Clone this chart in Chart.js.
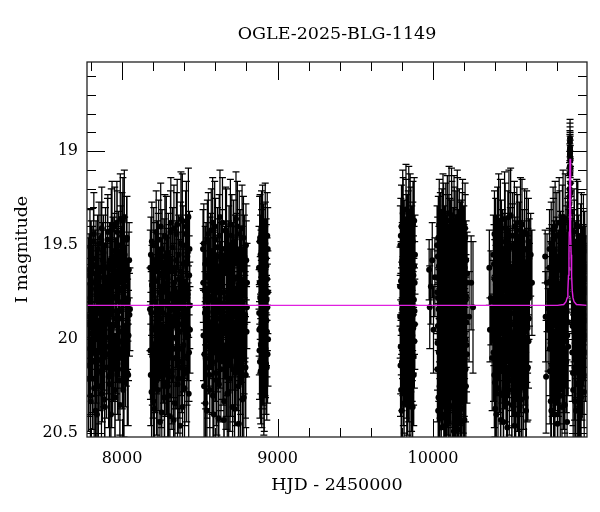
<!DOCTYPE html>
<html>
<head>
<meta charset="utf-8">
<script src="https://cdn.jsdelivr.net/npm/chart.js@4"></script>
<style>
  html, body { margin: 0; padding: 0; background: #fff; }
  #wrap { width: 600px; height: 512px; }
</style>
</head>
<body>
<div id="wrap"><canvas id="lc" width="600" height="512"></canvas></div>
<script>
const title = 'OGLE-2025-BLG-1149';
const xTickLabels = [8000, 9000, 10000];
const yTickLabels = [19, 19.5, 20, 20.5];

// observing seasons: [HJD - 2450000, I mag, error]
const season1 = [
  [7781,19.92,0.22],[7785,20.21,0.28],[7788,19.63,0.19],[7792,20.05,0.25],[7795,19.78,0.21],[7799,20.33,0.31],
  [7802,19.55,0.18],[7806,19.97,0.24],[7810,20.12,0.27],[7813,19.70,0.20],[7817,19.48,0.18],[7821,20.26,0.30],
  [7824,19.86,0.22],[7828,19.61,0.19],[7832,20.08,0.26],[7835,19.74,0.21],[7839,20.40,0.33],[7843,19.52,0.18],
  [7846,19.91,0.23],[7850,20.17,0.28],[7854,19.67,0.20],[7857,19.83,0.22],[7861,20.02,0.25],[7865,19.46,0.19],
  [7868,20.29,0.30],[7872,19.76,0.21],[7876,19.58,0.20],[7879,20.10,0.26],[7883,19.94,0.23],[7887,19.69,0.20],
  [7890,20.36,0.32],[7894,19.50,0.20],[7898,19.88,0.22],[7901,20.15,0.27],[7905,19.72,0.21],[7909,19.43,0.20],
  [7912,20.04,0.25],[7916,19.81,0.22],[7920,20.24,0.29],[7923,19.60,0.20],[7927,19.95,0.23],[7931,19.42,0.22],
  [7934,20.19,0.28],[7938,19.77,0.21],[7942,19.56,0.21],[7945,20.07,0.26],[7949,19.89,0.23],[7953,19.40,0.21],
  [7956,20.31,0.30],[7960,19.66,0.20],[7964,19.99,0.24],[7967,19.38,0.22],[7971,20.13,0.27],[7975,19.73,0.22],
  [7978,19.53,0.21],[7982,19.85,0.23],[7986,20.22,0.29],[7989,19.36,0.24],[7993,19.62,0.22],[7997,20.01,0.25],
  [8000,19.45,0.23],[8004,19.80,0.22],[8008,20.27,0.30],[8011,19.57,0.22],[8015,19.35,0.25],[8019,19.93,0.24],
  [8022,20.09,0.27],[8026,19.68,0.21],[8030,19.47,0.23],[8034,20.18,0.28],[8038,19.79,0.22],[8042,19.98,0.24],
  [8046,19.58,0.20],[8051,19.84,0.22],
  [7783,19.66,0.20],[7787,20.14,0.27],[7790,19.88,0.22],[7794,19.51,0.20],[7797,20.30,0.31],[7801,19.73,0.22],
  [7804,19.97,0.24],[7808,19.60,0.20],[7811,20.21,0.27],[7815,19.84,0.22],[7819,19.44,0.22],[7822,20.06,0.24],
  [7826,19.92,0.24],[7830,20.38,0.31],[7833,19.57,0.20],[7837,19.79,0.22],[7841,20.00,0.24],[7844,19.69,0.20],
  [7848,20.25,0.29],[7852,19.49,0.22],[7855,19.86,0.22],[7859,20.11,0.27],[7863,19.64,0.20],[7866,19.95,0.24],
  [7870,19.41,0.22],[7874,20.17,0.27],[7877,19.75,0.22],[7881,19.54,0.20],[7885,20.03,0.24],[7888,20.32,0.31],
  [7892,19.82,0.22],[7896,19.62,0.20],[7899,19.90,0.24],[7903,20.08,0.24],[7907,19.47,0.22],[7910,19.71,0.22],
  [7914,20.20,0.27],[7918,19.99,0.24],[7921,19.58,0.20],[7925,19.87,0.22],[7929,20.40,0.32],[7932,19.67,0.20],
  [7936,19.39,0.23],[7940,20.13,0.27],[7943,19.78,0.22],[7947,19.93,0.24],[7951,19.53,0.20],[7954,20.27,0.30],
  [7958,19.70,0.22],[7962,20.05,0.24],[7965,19.85,0.22],[7969,19.43,0.22],[7973,19.61,0.20],[7976,20.16,0.27],
  [7980,19.96,0.24],[7984,19.74,0.22],[7987,20.35,0.31],[7991,19.50,0.21],[7995,19.89,0.22],[7998,19.65,0.20],
  [8002,20.10,0.27],[8006,19.37,0.23],[8009,19.81,0.22],[8013,20.23,0.29],[8017,19.55,0.20],[8020,19.98,0.24],
  [8024,19.72,0.22],[8028,20.01,0.24],[8032,19.46,0.22],[8036,19.92,0.24],[8040,20.19,0.27],[8044,19.63,0.20],
  [8048,19.87,0.22]
];
const season2 = [
  [8180,19.84,0.22],[8183,20.06,0.26],[8186,19.55,0.20],[8190,20.28,0.30],[8193,19.71,0.21],[8197,19.95,0.23],
  [8200,20.15,0.27],[8204,19.50,0.20],[8208,20.37,0.32],[8211,19.80,0.22],[8215,19.63,0.20],[8218,20.02,0.25],
  [8222,20.22,0.29],[8226,19.57,0.20],[8229,19.90,0.23],[8233,20.11,0.27],[8236,19.47,0.21],[8240,19.75,0.21],
  [8244,20.44,0.33],[8247,19.97,0.24],[8251,19.66,0.20],[8254,20.19,0.28],[8258,19.52,0.21],[8262,19.86,0.22],
  [8265,20.08,0.26],[8269,19.70,0.21],[8272,20.31,0.31],[8276,19.45,0.22],[8280,19.93,0.23],[8283,20.14,0.27],
  [8287,19.61,0.20],[8290,19.82,0.22],[8294,20.25,0.30],[8298,19.54,0.21],[8301,20.00,0.25],[8305,19.76,0.21],
  [8308,20.41,0.33],[8312,19.43,0.22],[8316,19.88,0.23],[8319,20.17,0.28],[8323,19.64,0.21],[8326,19.99,0.24],
  [8330,20.05,0.26],[8334,19.41,0.23],[8337,19.73,0.21],[8341,20.34,0.31],[8344,19.92,0.23],[8348,19.58,0.21],
  [8352,20.10,0.27],[8355,19.39,0.24],[8359,19.81,0.22],[8362,20.21,0.29],[8366,19.68,0.21],[8370,19.96,0.24],
  [8373,20.46,0.33],[8377,19.49,0.22],[8380,19.87,0.23],[8384,20.12,0.27],[8388,19.37,0.25],[8391,19.74,0.22],
  [8395,20.03,0.25],[8398,19.60,0.22],[8402,20.26,0.30],[8406,19.91,0.23],[8409,19.44,0.23],[8413,19.78,0.22],
  [8416,20.16,0.28],[8420,19.56,0.22],[8424,19.98,0.24],[8427,19.35,0.26],[8431,20.07,0.26],[8434,19.52,0.20],
  [8437,19.95,0.23],
  [8182,19.62,0.20],[8185,20.19,0.27],[8188,19.86,0.22],[8192,19.48,0.21],[8195,20.09,0.26],[8199,19.77,0.22],
  [8202,20.33,0.31],[8206,19.58,0.20],[8209,19.94,0.24],[8213,20.12,0.27],[8216,19.69,0.21],[8220,19.43,0.22],
  [8224,20.04,0.25],[8227,19.83,0.22],[8231,20.27,0.30],[8234,19.53,0.20],[8238,19.98,0.24],[8242,19.72,0.21],
  [8245,20.16,0.27],[8249,19.40,0.23],[8252,19.89,0.23],[8256,20.39,0.32],[8260,19.65,0.21],[8263,20.01,0.25],
  [8267,19.80,0.22],[8270,19.56,0.20],[8274,20.23,0.29],[8278,19.74,0.21],[8281,19.96,0.24],[8285,19.46,0.22],
  [8289,20.13,0.27],[8292,19.67,0.21],[8296,19.91,0.23],[8299,20.30,0.31],[8303,19.59,0.20],[8307,19.85,0.22],
  [8310,20.07,0.26],[8314,19.38,0.24],[8317,19.78,0.22],[8321,20.20,0.28],[8325,19.51,0.21],[8328,19.93,0.23],
  [8332,20.43,0.33],[8335,19.70,0.21],[8339,19.62,0.20],[8343,20.10,0.27],[8346,19.84,0.22],[8350,19.44,0.22],
  [8353,20.00,0.25],[8357,20.24,0.29],[8361,19.75,0.21],[8364,19.55,0.21],[8368,19.92,0.23],[8371,20.15,0.27],
  [8375,19.64,0.21],[8379,19.36,0.25],[8382,20.05,0.25],[8386,19.81,0.22],[8389,20.36,0.32],[8393,19.50,0.21],
  [8396,19.88,0.23],[8400,19.71,0.21],[8404,20.18,0.28],[8407,19.97,0.24],[8411,19.59,0.21],[8414,19.40,0.24],
  [8418,20.09,0.26],[8422,19.76,0.22],[8425,19.94,0.24],[8429,20.29,0.30],[8432,19.66,0.21],[8436,19.82,0.23]
];
const season3 = [
  [8521,19.52,0.21],[8524,19.98,0.24],[8528,20.25,0.30],[8531,19.74,0.21],[8535,19.60,0.20],[8538,20.10,0.27],
  [8542,19.88,0.23],[8546,20.38,0.32],[8549,19.47,0.21],[8553,19.80,0.22],[8556,20.04,0.25],[8560,19.66,0.20],
  [8564,20.19,0.28],[8567,19.55,0.20],[8571,19.93,0.23],[8574,19.42,0.22],[8578,20.13,0.27],[8582,19.77,0.21],
  [8585,20.30,0.31],[8589,19.62,0.20],[8592,19.85,0.22],[8596,19.40,0.24],[8600,20.07,0.26],[8603,19.71,0.21],
  [8607,19.95,0.23],[8610,20.22,0.29],[8614,19.51,0.21],[8618,19.82,0.22],[8621,20.42,0.33],[8625,19.45,0.22],
  [8628,20.01,0.25],[8632,19.69,0.21],[8636,20.16,0.28],[8639,19.58,0.20],[8643,19.90,0.23],[8646,19.38,0.24],
  [8650,20.09,0.26],[8654,19.75,0.21],[8657,20.33,0.31],[8661,19.64,0.21],[8664,19.97,0.24],[8668,20.20,0.28],
  [8672,19.43,0.23],[8675,19.83,0.22],[8679,20.05,0.25],[8682,19.57,0.20],[8686,20.28,0.30],[8690,19.72,0.21],
  [8693,19.92,0.23],[8697,19.39,0.24],[8700,20.14,0.27],[8704,19.79,0.22],[8708,19.61,0.21],[8711,20.36,0.32],
  [8715,19.87,0.23],[8718,19.48,0.22],[8722,20.02,0.25],[8726,19.68,0.21],[8729,20.18,0.28],[8733,19.36,0.25],
  [8736,19.94,0.24],[8740,19.54,0.21],[8744,20.11,0.27],[8747,19.76,0.22],[8751,20.45,0.33],[8754,19.44,0.23],
  [8758,19.86,0.23],[8762,20.23,0.29],[8765,19.63,0.21],[8769,19.99,0.24],[8772,19.41,0.23],[8776,20.06,0.26],
  [8780,19.73,0.22],[8783,20.31,0.31],[8787,19.56,0.22],[8790,19.89,0.23],[8794,20.15,0.27],[8797,19.50,0.22],
  [8801,19.96,0.24],[8804,19.70,0.21],
  [8523,19.70,0.21],[8526,19.49,0.21],[8530,20.08,0.26],[8533,19.86,0.22],[8537,20.34,0.31],[8540,19.58,0.20],
  [8544,19.95,0.23],[8547,20.15,0.27],[8551,19.67,0.21],[8555,19.44,0.22],[8558,20.00,0.25],[8562,19.79,0.22],
  [8565,20.27,0.30],[8569,19.53,0.20],[8573,19.91,0.23],[8576,19.73,0.21],[8580,20.12,0.27],[8583,19.38,0.24],
  [8587,19.97,0.24],[8591,20.40,0.32],[8594,19.63,0.20],[8598,19.84,0.22],[8601,19.47,0.22],[8605,20.18,0.28],
  [8609,19.75,0.21],[8612,20.03,0.25],[8616,19.56,0.20],[8619,19.89,0.23],[8623,20.24,0.29],[8627,19.66,0.21],
  [8630,19.35,0.25],[8634,19.93,0.23],[8637,20.11,0.27],[8641,19.72,0.21],[8645,19.52,0.21],[8648,20.06,0.26],
  [8652,19.81,0.22],[8655,20.43,0.33],[8659,19.60,0.20],[8662,19.88,0.23],[8666,19.42,0.23],[8670,20.14,0.27],
  [8673,19.78,0.22],[8677,20.29,0.30],[8680,19.65,0.21],[8684,19.99,0.24],[8688,19.50,0.21],[8691,19.84,0.22],
  [8695,20.21,0.28],[8698,19.70,0.21],[8702,20.02,0.25],[8706,19.45,0.22],[8709,19.92,0.23],[8713,20.16,0.28],
  [8716,19.59,0.21],[8720,19.77,0.22],[8724,20.37,0.32],[8727,19.55,0.21],[8731,19.96,0.24],[8734,20.09,0.26],
  [8738,19.67,0.21],[8742,19.40,0.24],[8745,19.85,0.23],[8749,20.25,0.29],[8752,19.74,0.22],[8756,19.98,0.24],
  [8760,19.52,0.21],[8763,20.13,0.27],[8767,19.82,0.22],[8770,19.61,0.21],[8774,20.32,0.31],[8778,19.90,0.23],
  [8781,19.46,0.22],[8785,20.04,0.25],[8789,19.71,0.21],[8792,19.87,0.23],[8796,20.19,0.28],[8799,19.58,0.21],
  [8803,19.83,0.22]
];
const season4 = [
  [8881,19.62,0.22],[8883,19.95,0.24],[8885,19.48,0.24],[8887,20.12,0.30],[8889,19.78,0.22],[8891,19.55,0.21],
  [8893,20.03,0.26],[8895,19.87,0.23],[8897,19.44,0.23],[8899,20.19,0.28],[8901,19.70,0.22],[8903,19.92,0.24],
  [8905,19.59,0.22],[8907,20.08,0.27],[8909,19.81,0.22],[8911,19.50,0.22],[8913,19.98,0.24],[8915,20.22,0.27],
  [8917,19.66,0.21],[8919,19.85,0.23],[8921,19.40,0.23],[8923,20.05,0.26],[8925,19.74,0.22],[8927,19.57,0.21],
  [8929,19.90,0.24],[8931,20.15,0.28],[8933,19.68,0.22],[8935,19.83,0.23],[8937,19.52,0.22],[8939,20.00,0.25],
  [8882,19.86,0.23],[8884,20.06,0.26],[8886,19.70,0.22],[8888,19.46,0.23],[8890,19.94,0.24],[8892,20.17,0.28],
  [8894,19.63,0.21],[8896,19.80,0.22],[8898,19.53,0.22],[8900,20.10,0.27],[8902,19.88,0.23],[8904,19.42,0.24],
  [8906,19.76,0.22],[8908,20.01,0.25],[8910,19.65,0.21],[8912,20.24,0.27],[8914,19.58,0.22],[8916,19.93,0.24],
  [8918,19.72,0.22],[8920,20.04,0.26],[8922,19.49,0.22],[8924,19.84,0.23],[8926,20.13,0.27],[8928,19.61,0.22],
  [8930,19.79,0.22],[8932,19.96,0.24],[8934,19.45,0.23],[8936,20.08,0.26],[8938,19.75,0.22]
];
const season5 = [
  [9788,19.72,0.21],[9791,20.14,0.27],[9793,19.45,0.20],[9796,19.95,0.24],[9798,20.38,0.30],[9801,19.60,0.20],
  [9803,19.84,0.22],[9806,20.05,0.25],[9808,19.36,0.22],[9811,19.77,0.21],[9813,20.22,0.28],[9816,19.52,0.20],
  [9818,19.91,0.23],[9821,19.66,0.21],[9823,20.10,0.26],[9826,19.31,0.24],[9828,19.86,0.22],[9831,20.30,0.29],
  [9833,19.57,0.20],[9836,19.99,0.24],[9838,19.74,0.21],[9841,19.42,0.21],[9843,20.17,0.27],[9846,19.81,0.22],
  [9848,19.63,0.21],[9851,20.02,0.25],[9853,19.34,0.22],[9856,19.89,0.23],[9858,20.26,0.29],[9861,19.70,0.21],
  [9863,19.50,0.21],[9866,20.07,0.26],[9868,19.79,0.22],[9871,19.39,0.23],[9873,19.94,0.24],[9876,20.19,0.27],
  [9878,19.61,0.21],[9881,19.85,0.23],[9884,19.55,0.21],
  [9789,19.88,0.22],[9790,19.50,0.21],[9792,20.04,0.25],[9794,19.69,0.21],[9795,20.27,0.29],[9797,19.40,0.22],
  [9799,19.81,0.22],[9800,20.12,0.26],[9802,19.58,0.20],[9804,19.97,0.24],[9805,19.33,0.23],[9807,19.75,0.21],
  [9809,20.19,0.27],[9810,19.64,0.21],[9812,19.92,0.23],[9814,20.34,0.30],[9815,19.47,0.21],[9817,19.83,0.22],
  [9819,20.08,0.26],[9820,19.71,0.21],[9822,19.55,0.20],[9824,20.00,0.25],[9825,19.87,0.22],[9827,19.38,0.23],
  [9829,20.15,0.27],[9830,19.67,0.21],[9832,19.93,0.23],[9834,19.44,0.21],[9835,20.23,0.28],[9837,19.78,0.22],
  [9839,19.60,0.21],[9840,20.06,0.25],[9842,19.85,0.22],[9844,19.32,0.24],[9845,19.96,0.24],[9847,20.31,0.29],
  [9849,19.53,0.21],[9850,19.76,0.22],[9852,20.11,0.26],[9854,19.64,0.21],[9855,19.90,0.23],[9857,19.41,0.22],
  [9859,20.03,0.25],[9860,19.82,0.22],[9862,20.21,0.28],[9864,19.57,0.21],[9865,19.73,0.22],[9867,19.98,0.24],
  [9869,20.36,0.30],[9870,19.48,0.21],[9872,19.87,0.23],[9874,19.66,0.21],[9875,20.09,0.26],[9877,19.79,0.22],
  [9879,19.37,0.23],[9880,20.01,0.25],[9882,19.70,0.22],[9883,19.92,0.24]
];
const season6 = [
  [9975,19.63,0.16],[9979,19.83,0.22],[9986,19.72,0.20],[9995,19.58,0.20],[10003,19.95,0.23],[10012,19.67,0.21],
  [10026,19.50,0.21],[10029,20.02,0.25],[10032,19.78,0.22],[10035,20.31,0.30],[10038,19.61,0.21],[10041,19.89,0.23],
  [10044,20.15,0.27],[10047,19.44,0.22],[10050,19.73,0.21],[10053,20.42,0.32],[10056,19.96,0.24],[10059,19.57,0.21],
  [10062,20.08,0.26],[10065,19.82,0.22],[10068,19.40,0.23],[10071,20.24,0.29],[10074,19.69,0.21],[10077,19.92,0.23],
  [10080,20.46,0.33],[10083,19.53,0.21],[10086,20.04,0.25],[10089,19.76,0.22],[10092,19.37,0.24],[10095,20.18,0.28],
  [10098,19.86,0.23],[10101,19.63,0.21],[10104,20.35,0.31],[10107,19.47,0.22],[10110,19.99,0.24],[10113,20.11,0.27],
  [10116,19.71,0.21],[10119,19.34,0.25],[10122,19.90,0.23],[10125,20.27,0.30],[10128,19.59,0.21],[10131,19.80,0.22],
  [10134,20.49,0.34],[10137,19.42,0.23],[10140,20.06,0.26],[10143,19.74,0.22],[10146,19.96,0.24],[10149,20.21,0.29],
  [10152,19.55,0.21],[10155,19.85,0.23],[10158,19.38,0.24],[10161,20.38,0.32],[10164,19.66,0.21],[10167,20.01,0.25],
  [10170,19.79,0.22],[10173,20.13,0.27],[10176,19.49,0.22],[10179,19.93,0.24],[10182,20.44,0.33],[10185,19.70,0.22],
  [10188,19.45,0.23],[10191,20.09,0.26],[10194,19.84,0.23],[10197,20.28,0.30],[10200,19.60,0.21],[10203,19.97,0.24],
  [10206,19.41,0.24],[10209,20.16,0.28],[10212,19.77,0.22],[10215,20.03,0.25],[10219,19.65,0.22],
  [10232,19.88,0.24],[10245,19.70,0.25],[10257,19.83,0.35],
  [10027,19.75,0.22],[10028,20.16,0.28],[10030,19.56,0.21],[10031,19.93,0.23],[10033,20.38,0.32],[10034,19.46,0.22],
  [10036,19.84,0.22],[10037,20.07,0.26],[10039,19.68,0.21],[10040,19.39,0.24],[10042,20.25,0.29],[10043,19.97,0.24],
  [10045,19.61,0.21],[10046,19.79,0.22],[10048,20.12,0.27],[10049,19.52,0.21],[10051,19.90,0.23],[10052,20.47,0.33],
  [10054,19.72,0.21],[10055,20.01,0.25],[10057,19.43,0.23],[10058,19.86,0.23],[10060,20.20,0.28],[10061,19.64,0.21],
  [10063,19.95,0.24],[10064,19.36,0.24],[10066,20.10,0.27],[10067,19.77,0.22],[10069,20.33,0.31],[10070,19.58,0.21],
  [10072,19.88,0.23],[10073,20.05,0.26],[10075,19.50,0.21],[10076,19.73,0.22],[10078,20.40,0.32],[10079,19.99,0.24],
  [10081,19.66,0.21],[10082,19.41,0.24],[10084,20.14,0.27],[10085,19.83,0.22],[10087,20.28,0.30],[10088,19.55,0.21],
  [10090,19.94,0.24],[10091,19.70,0.21],[10093,20.03,0.25],[10094,19.45,0.22],[10096,20.22,0.29],[10097,19.81,0.22],
  [10099,19.60,0.21],[10100,20.44,0.33],[10102,19.91,0.23],[10103,19.33,0.25],[10105,20.09,0.27],[10106,19.75,0.22],
  [10108,19.54,0.21],[10109,20.17,0.28],[10111,19.87,0.23],[10112,19.67,0.21],[10114,20.31,0.30],[10115,19.48,0.22],
  [10117,19.97,0.24],[10118,20.05,0.26],[10120,19.72,0.22],[10121,19.40,0.24],[10123,20.19,0.28],[10124,19.84,0.22],
  [10126,19.62,0.21],[10127,20.36,0.32],[10129,19.95,0.24],[10130,19.51,0.21],[10132,20.12,0.27],[10133,19.78,0.22],
  [10135,19.37,0.24],[10136,20.00,0.25],[10138,19.69,0.21],[10139,20.26,0.29],[10141,19.89,0.23],[10142,19.57,0.21],
  [10144,20.41,0.33],[10145,19.82,0.22],[10147,19.44,0.23],[10148,20.08,0.26],[10150,19.74,0.22],[10151,19.98,0.24],
  [10153,20.23,0.29],[10154,19.63,0.21],[10156,19.35,0.25],[10157,19.92,0.23],[10159,20.15,0.28],[10160,19.76,0.22],
  [10162,19.52,0.21],[10163,20.04,0.25],[10165,20.48,0.34],[10166,19.86,0.23],[10168,19.68,0.21],[10169,19.43,0.23],
  [10171,20.18,0.28],[10172,19.95,0.24],[10174,19.59,0.21],[10175,20.30,0.30],[10177,19.80,0.22],[10178,20.02,0.25],
  [10180,19.48,0.22],[10181,19.71,0.22],[10183,20.11,0.27],[10184,19.90,0.23],[10186,20.37,0.32],[10187,19.56,0.21],
  [10189,19.83,0.22],[10190,19.39,0.24],[10192,20.06,0.26],[10193,19.66,0.21],[10195,20.21,0.29],[10196,19.94,0.24],
  [10198,19.50,0.21],[10199,19.75,0.22],[10201,20.14,0.27],[10202,20.43,0.33],[10204,19.62,0.21],[10205,19.88,0.23],
  [10207,19.46,0.23],[10208,20.00,0.25],[10210,19.79,0.22],[10211,20.25,0.29],[10213,19.58,0.21],[10214,19.91,0.24],
  [10216,19.70,0.22],[10218,20.08,0.26]
];
const season7 = [
  [10362,19.62,0.20],[10366,19.95,0.17],[10372,19.78,0.25],[10380,20.10,0.28],
  [10388,19.55,0.21],[10391,19.91,0.23],[10394,20.19,0.28],[10397,19.68,0.21],[10400,20.37,0.31],[10403,19.47,0.22],
  [10406,19.84,0.22],[10409,20.05,0.25],[10412,19.73,0.21],[10415,19.42,0.23],[10418,20.26,0.29],[10421,19.98,0.24],
  [10424,19.60,0.21],[10427,20.12,0.27],[10430,19.81,0.22],[10433,19.39,0.24],[10436,20.43,0.33],[10439,19.70,0.21],
  [10442,19.94,0.24],[10445,20.08,0.26],[10448,19.52,0.21],[10451,19.87,0.23],[10454,20.30,0.30],[10457,19.64,0.21],
  [10460,19.36,0.25],[10463,20.01,0.25],[10466,19.77,0.22],[10469,20.16,0.28],[10472,19.57,0.21],[10475,19.90,0.23],
  [10478,20.47,0.33],[10481,19.44,0.23],[10484,20.04,0.25],[10487,19.75,0.22],[10490,20.22,0.29],[10493,19.62,0.21],
  [10496,19.96,0.24],[10499,19.34,0.25],[10502,20.11,0.27],[10505,19.83,0.23],[10508,20.35,0.31],[10511,19.50,0.22],
  [10514,19.92,0.24],[10517,19.69,0.21],[10520,20.18,0.28],[10523,19.40,0.24],[10526,20.00,0.25],[10529,19.79,0.22],
  [10532,20.40,0.32],[10535,19.58,0.21],[10538,19.88,0.23],[10541,20.07,0.26],[10544,19.46,0.23],[10547,19.72,0.22],
  [10550,20.25,0.29],[10553,19.97,0.24],[10556,19.61,0.21],[10559,20.14,0.27],[10562,19.38,0.24],[10565,19.85,0.23],
  [10568,20.32,0.30],[10571,19.66,0.21],[10574,20.02,0.25],[10577,19.53,0.22],[10580,19.93,0.24],[10583,20.20,0.28],
  [10586,19.74,0.22],[10589,19.43,0.23],[10592,20.09,0.26],[10595,19.82,0.23],[10598,20.38,0.31],[10601,19.59,0.22],
  [10604,19.99,0.24],[10607,19.67,0.22],[10610,20.15,0.28],[10613,19.48,0.23],[10616,19.89,0.23],[10620,19.71,0.22],
  [10628,19.55,0.22],[10636,19.70,0.28],
  [10386,19.80,0.22],[10389,20.07,0.26],[10392,19.60,0.21],[10395,19.44,0.23],[10398,20.23,0.29],[10401,19.89,0.23],
  [10404,19.71,0.21],[10407,20.40,0.32],[10410,19.55,0.21],[10413,19.96,0.24],[10416,20.13,0.27],[10419,19.66,0.21],
  [10422,19.37,0.25],[10425,19.85,0.22],[10428,20.02,0.25],[10431,19.58,0.21],[10434,20.29,0.30],[10437,19.76,0.22],
  [10440,19.48,0.22],[10443,19.93,0.24],[10446,20.17,0.28],[10449,19.72,0.21],[10452,20.44,0.33],[10455,19.83,0.22],
  [10458,19.54,0.21],[10461,20.10,0.27],[10464,19.41,0.24],[10467,19.98,0.24],[10470,19.67,0.21],[10473,20.34,0.31],
  [10476,19.78,0.22],[10479,19.61,0.21],[10482,20.05,0.26],[10485,19.88,0.23],[10488,19.35,0.25],[10491,20.19,0.28],
  [10494,19.74,0.22],[10497,19.51,0.21],[10500,20.00,0.25],[10503,19.92,0.24],[10506,20.27,0.30],[10509,19.63,0.21],
  [10512,19.45,0.23],[10515,20.14,0.27],[10518,19.86,0.23],[10521,19.70,0.21],[10524,20.46,0.33],[10527,19.56,0.21],
  [10530,19.95,0.24],[10533,20.09,0.27],[10536,19.77,0.22],[10539,19.42,0.23],[10542,20.21,0.28],[10545,19.84,0.22],
  [10548,19.65,0.21],[10551,20.03,0.25],[10554,19.49,0.22],[10557,20.36,0.31],[10560,19.91,0.23],[10563,19.73,0.22],
  [10566,20.12,0.27],[10569,19.59,0.21],[10572,19.39,0.24],[10575,19.97,0.24],[10578,20.24,0.29],[10581,19.80,0.22],
  [10584,19.64,0.21],[10587,20.06,0.26],[10590,19.52,0.21],[10593,19.87,0.23],[10596,20.31,0.30],[10599,19.75,0.22],
  [10602,19.44,0.23],[10605,20.16,0.28],[10608,19.94,0.24],[10611,19.62,0.21],[10614,20.01,0.25],[10617,19.78,0.22],
  [10619,19.57,0.21]
];
const season8 = [
  [10721,19.56,0.14],[10724,19.88,0.24],[10727,20.20,0.30],[10733,19.70,0.26],[10740,19.95,0.22],
  [10748,19.62,0.21],[10751,20.05,0.25],[10754,19.78,0.22],[10757,20.33,0.31],[10760,19.49,0.22],[10763,19.90,0.23],
  [10766,20.14,0.27],[10769,19.67,0.21],[10772,19.42,0.23],[10775,20.24,0.29],[10778,19.84,0.22],[10781,19.58,0.21],
  [10784,20.40,0.32],[10787,19.96,0.24],[10790,19.72,0.21],[10793,20.09,0.26],[10796,19.45,0.23],[10799,19.81,0.22],
  [10802,20.29,0.30],[10805,19.63,0.21],[10808,19.99,0.24],[10811,19.38,0.24],[10814,20.17,0.28],[10817,19.75,0.22],
  [10820,19.53,0.21],[10823,20.03,0.25],[10826,19.87,0.23],[10829,20.36,0.31],[10832,19.41,0.23],[10835,19.69,0.21],
  [10838,20.12,0.27],[10841,19.93,0.24],[10844,19.57,0.22],[10847,20.21,0.29],[10850,19.36,0.24],[10853,19.80,0.22],
  [10856,20.01,0.25],[10859,19.64,0.21],[10862,20.44,0.33],[10865,19.47,0.22],[10868,19.91,0.23],[10870,19.70,0.20],
  [10871,19.66,0.20],[10872,19.60,0.18],[10873,19.55,0.18],[10874,19.48,0.17],[10875,19.44,0.17],[10876,19.38,0.16],
  [10877,19.28,0.15],[10877.5,19.24,0.15],[10878,19.20,0.14],[10879,19.12,0.12],[10879.5,19.08,0.12],[10880,19.02,0.11],
  [10880.2,18.99,0.10],[10880.5,18.95,0.10],[10880.8,19.01,0.10],[10881,18.93,0.10],[10881.2,18.98,0.11],[10881.5,19.00,0.10],
  [10881.8,19.03,0.11],[10882,19.05,0.11],[10882.5,19.09,0.12],[10883,19.12,0.12],[10883.5,19.17,0.13],[10884,19.22,0.14],
  [10885,19.32,0.15],[10886,19.42,0.16],[10887,19.50,0.17],[10888,19.55,0.18],[10889,19.60,0.19],[10890,19.65,0.19],
  [10891,19.72,0.20],
  [10893,19.76,0.21],[10895,20.07,0.26],[10898,19.52,0.21],[10901,20.27,0.30],[10904,19.85,0.23],[10907,19.43,0.23],
  [10910,20.15,0.28],[10913,19.68,0.21],[10916,19.97,0.24],[10919,20.38,0.32],[10922,19.59,0.22],[10925,19.82,0.22],
  [10928,20.10,0.27],[10931,19.40,0.24],[10934,19.94,0.24],[10937,20.23,0.29],[10940,19.65,0.21],[10943,19.88,0.23],
  [10946,20.04,0.25],[10949,19.50,0.22],[10952,20.31,0.30],[10955,19.78,0.22],[10958,19.61,0.21],[10961,20.13,0.27],
  [10964,19.86,0.23],[10967,19.46,0.23],[10970,20.19,0.28],[10973,19.73,0.22],[10976,19.98,0.24],[10979,19.62,0.22],
  [10982,19.90,0.25],[10985,19.75,0.26],
  [10746,19.84,0.22],[10749,19.52,0.21],[10752,20.17,0.28],[10755,19.69,0.21],[10758,19.94,0.24],[10761,20.38,0.32],
  [10764,19.60,0.21],[10767,19.80,0.22],[10770,20.06,0.26],[10773,19.47,0.22],[10776,19.89,0.23],[10779,20.26,0.29],
  [10782,19.73,0.21],[10785,19.40,0.24],[10788,20.11,0.27],[10791,19.86,0.23],[10794,19.56,0.21],[10797,20.00,0.25],
  [10800,20.45,0.33],[10803,19.77,0.22],[10806,19.63,0.21],[10809,20.14,0.27],[10812,19.92,0.23],[10815,19.44,0.23],
  [10818,20.30,0.30],[10821,19.71,0.22],[10824,19.97,0.24],[10827,19.55,0.21],[10830,20.08,0.26],[10833,19.83,0.22],
  [10836,19.35,0.25],[10839,20.20,0.28],[10842,19.66,0.21],[10845,19.90,0.23],[10848,20.35,0.31],[10851,19.59,0.21],
  [10854,19.76,0.22],[10857,20.12,0.27],[10860,19.50,0.21],[10863,19.98,0.24],[10866,19.74,0.22],[10869,20.04,0.26],
  [10894,19.58,0.21],[10897,19.93,0.24],[10900,20.18,0.28],[10903,19.66,0.21],[10906,19.89,0.23],[10909,19.48,0.22],
  [10912,20.33,0.31],[10915,19.79,0.22],[10918,20.05,0.26],[10921,19.62,0.21],[10924,19.39,0.24],[10927,19.95,0.24],
  [10930,20.24,0.29],[10933,19.72,0.22],[10936,19.55,0.21],[10939,20.09,0.27],[10942,19.84,0.22],[10945,20.41,0.32],
  [10948,19.67,0.21],[10951,19.91,0.23],[10954,19.45,0.23],[10957,20.15,0.28],[10960,19.76,0.22],[10963,20.00,0.25],
  [10966,19.60,0.21],[10969,19.87,0.23],[10972,20.28,0.30],[10975,19.53,0.21],[10978,19.81,0.22],[10981,20.07,0.26],
  [10984,19.68,0.23]
];

// model curve
const modelHjd = [7775, 10800, 10840, 10855, 10862, 10867, 10871, 10874, 10876, 10878, 10879.5, 10881,
                  10882.5, 10884, 10886, 10888, 10891, 10895, 10900, 10907, 10922, 10990];
const modelMag = [19.82, 19.82, 19.815, 19.80, 19.78, 19.74, 19.66, 19.55, 19.43, 19.27, 19.14, 19.04,
                  19.14, 19.27, 19.43, 19.55, 19.66, 19.74, 19.78, 19.80, 19.815, 19.82];

const serif = "'DejaVu Serif', 'Liberation Serif', serif";

const obs = [season1, season2, season3, season4, season5, season6, season7, season8]
  .flat().map(p => ({x: p[0], y: p[1], err: p[2]}));
const model = modelHjd.map((t, i) => ({x: t, y: modelMag[i]}));

// vertical error bars with small caps, under the points
const errorBars = {
  id: 'errorBars',
  beforeDatasetsDraw(chart) {
    const {ctx, chartArea: a, scales: {x, y}} = chart;
    ctx.save();
    ctx.beginPath();
    ctx.rect(a.left, a.top, a.width, a.height);
    ctx.clip();
    ctx.strokeStyle = '#000';
    ctx.lineWidth = 1.25;
    ctx.beginPath();
    obs.forEach(p => {
      const px = x.getPixelForValue(p.x);
      const y1 = y.getPixelForValue(p.y - p.err);
      const y2 = y.getPixelForValue(p.y + p.err);
      ctx.moveTo(px, y1); ctx.lineTo(px, y2);
      ctx.moveTo(px - 3.5, y1); ctx.lineTo(px + 3.5, y1);
      ctx.moveTo(px - 3.5, y2); ctx.lineTo(px + 3.5, y2);
    });
    ctx.stroke();
    ctx.restore();
  }
};

// frame with inward ticks on all four sides
const frameTicks = {
  id: 'frameTicks',
  afterDraw(chart) {
    const {ctx, chartArea: a, scales: {x, y}} = chart;
    ctx.save();
    ctx.strokeStyle = '#000';
    ctx.lineWidth = 1;
    ctx.beginPath();
    for (let v = 7800; v <= x.max; v += 200) {
      const px = Math.round(x.getPixelForValue(v)) + 0.5;
      const len = xTickLabels.includes(v) ? 18 : 9;
      ctx.moveTo(px, a.bottom); ctx.lineTo(px, a.bottom - len);
      ctx.moveTo(px, a.top); ctx.lineTo(px, a.top + len);
    }
    for (let k = 186; k <= 205; k++) {
      const py = Math.round(y.getPixelForValue(k / 10)) + 0.5;
      const len = k % 5 === 0 ? 18 : 9;
      ctx.moveTo(a.left, py); ctx.lineTo(a.left + len, py);
      ctx.moveTo(a.right, py); ctx.lineTo(a.right - len, py);
    }
    ctx.stroke();
    ctx.lineWidth = 1.3;
    ctx.strokeStyle = '#222';
    ctx.strokeRect(a.left, a.top, a.width, a.height);
    ctx.restore();
  }
};

new Chart(document.getElementById('lc'), {
  type: 'scatter',
  data: {
    datasets: [
      {
        type: 'line',
        label: 'model',
        data: model,
        borderColor: '#e020e0',
        borderWidth: 1.4,
        pointRadius: 0,
        fill: false,
        tension: 0
      },
      {
        label: 'OGLE I',
        data: obs,
        backgroundColor: '#000',
        borderColor: '#000',
        borderWidth: 0,
        pointRadius: 3
      }
    ]
  },
  options: {
    responsive: false,
    animation: false,
    layout: {padding: {left: 0, right: 13, top: 0, bottom: 0}},
    plugins: {
      legend: {display: false},
      tooltip: {enabled: false},
      title: {
        display: true,
        text: title,
        fullSize: false,
        color: '#000',
        font: {family: serif, size: 17.5, weight: 'normal'},
        padding: {top: 24, bottom: 17}
      }
    },
    scales: {
      x: {
        type: 'linear',
        min: 7775,
        max: 10990,
        afterBuildTicks: s => { s.ticks = xTickLabels.map(v => ({value: v})); },
        afterFit: s => { s.height = 75; },
        grid: {display: false, drawTicks: false},
        border: {display: false},
        ticks: {
          color: '#000',
          font: {family: serif, size: 16},
          padding: 12,
          maxRotation: 0,
          autoSkip: false,
          callback: v => String(v)
        },
        title: {
          display: true,
          text: 'HJD - 2450000',
          color: '#000',
          font: {family: serif, size: 17.5},
          padding: {top: 0, bottom: 16}
        }
      },
      y: {
        type: 'linear',
        reverse: true,
        min: 18.525,
        max: 20.52,
        afterBuildTicks: s => { s.ticks = yTickLabels.map(v => ({value: v})); },
        afterFit: s => { s.width = 87; },
        grid: {display: false, drawTicks: false},
        border: {display: false},
        ticks: {
          color: '#000',
          font: {family: serif, size: 16},
          padding: 9,
          autoSkip: false,
          callback: v => String(v)
        },
        title: {
          display: true,
          text: 'I magnitude',
          color: '#000',
          font: {family: serif, size: 17.5},
          padding: {top: 12, bottom: 0}
        }
      }
    }
  },
  plugins: [errorBars, frameTicks]
});
</script>
</body>
</html>
